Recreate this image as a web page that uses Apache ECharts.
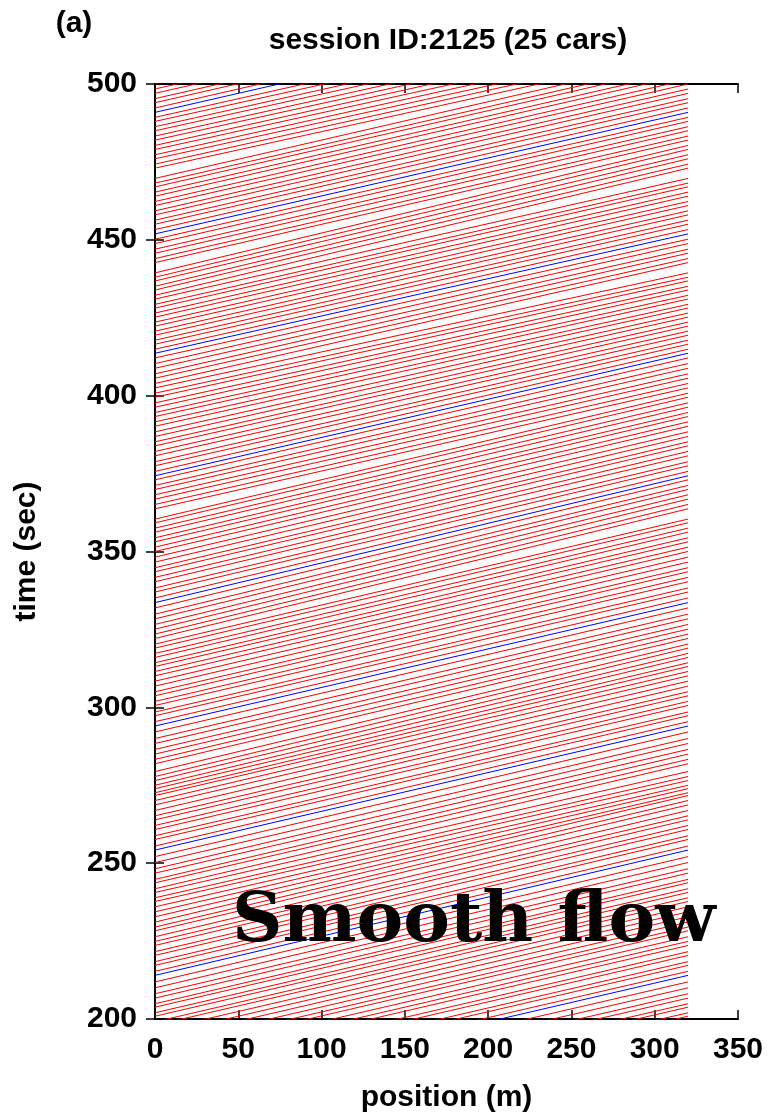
<!DOCTYPE html>
<html>
<head>
<meta charset="utf-8">
<script src="https://cdn.jsdelivr.net/npm/echarts@6/dist/echarts.min.js"></script>
<style>
  html, body { margin: 0; padding: 0; background: #fff; overflow: hidden; }
  #chart { width: 771px; height: 1118px; }
</style>
</head>
<body>
<div id="chart"></div>
<script>
// Ring road length (m) and the time each car passes position 0, lap by lap.
// Each row lists the 25 cars in order; the first car is the highlighted one.
const trackLength = 320;
const lapM1 = [134.6,136.0,137.8,139.1,140.9,142.2,144.1,145.4,147.0,148.9,150.2,151.9,153.4,155.1,156.5,158.3,159.5,161.2,162.5,164.3,165.5,167.3,168.7,170.6,172.4];
const lap0 = [174.3,175.7,177.6,178.8,180.7,181.9,183.9,185.2,186.8,188.6,189.9,191.5,193.1,194.7,196.2,198.0,199.1,200.9,202.0,203.8,204.9,206.7,208.1,210.0,211.9];
const lap1 = [214.0,215.3,217.2,218.4,220.4,221.6,223.6,224.9,226.4,228.3,229.5,231.1,232.8,234.4,236.0,237.7,238.9,240.6,241.8,243.7,244.8,246.8,248.2,250.2,252.1];
const lap2 = [254.2,255.5,257.6,258.8,260.8,262.1,263.9,265.2,266.9,268.7,270.1,271.7,272.6,273.9,275.0,276.5,277.8,279.4,281.9,283.3,285.0,286.5,288.4,290.0,292.1];
const lap3 = [294.0,295.4,297.3,298.5,300.6,301.9,303.7,305.0,306.8,308.4,310.1,311.5,313.1,314.3,316.0,317.3,319.0,320.3,322.1,323.5,325.1,326.6,328.4,329.9,331.9];
const lap4 = [333.6,335.1,337.0,338.3,340.3,341.7,343.5,344.8,346.6,348.2,350.0,351.4,353.1,354.4,356.2,357.5,359.2,360.4,363.7,365.1,366.8,368.2,369.9,371.2,373.0];
const lap5 = [374.3,375.7,377.5,378.8,380.7,382.1,383.9,385.2,386.9,388.4,390.2,391.6,393.3,394.6,396.3,397.7,399.5,400.8,402.5,403.9,405.6,407.0,408.8,410.3,412.1];
const lap6 = [413.6,414.9,416.5,417.8,419.4,420.7,422.3,423.6,425.2,426.5,428.1,429.3,431.0,432.2,433.9,435.1,436.8,438.0,439.4,442.7,444.0,445.7,447.0,448.8,450.2];
const lap7 = [451.9,453.3,455.0,456.3,458.0,459.3,461.0,462.3,464.0,465.3,467.0,468.2,469.7,473.0,474.3,476.0,477.3,479.0,480.3,482.0,483.3,485.0,486.3,488.0,489.3];
const lap8 = [490.9,492.3,494.0,495.3,497.0,498.4,500.0,501.4,503.1,504.4,506.1,507.4,509.1,510.5,512.2,513.5,515.2,516.6,518.3,519.6,521.3,522.7,524.4,525.8,527.6];
const lap9 = [530.0,531.4,533.1,534.4,536.1,537.5,539.2,540.5,542.2,543.6,545.3,546.6,548.3,549.7,551.4,552.7,554.4,555.8,557.5,558.8,560.5,561.9,563.6,565.0,566.7];
const laps = [lapM1, lap0, lap1, lap2, lap3, lap4, lap5, lap6, lap7, lap8, lap9];
const highlightCar = 0;

const chart = echarts.init(document.getElementById('chart'), null, { renderer: 'canvas' });

// One segment per car per lap: from position 0 at its pass time to the
// end of the road at its next pass time.
const redSeries = [];
const blueSeries = [];
for (let k = 0; k < laps.length - 1; k++) {
  for (let car = 0; car < laps[k].length; car++) {
    const isHi = car === highlightCar;
    const s = {
      type: 'line',
      data: [[0, laps[k][car]], [trackLength, laps[k + 1][car]]],
      showSymbol: false,
      symbol: 'none',
      silent: true,
      clip: true,
      z: isHi ? 4 : 3,
      lineStyle: { color: isHi ? '#0000ff' : '#ff0000', width: 1 }
    };
    (isHi ? blueSeries : redSeries).push(s);
  }
}

const font = '"Liberation Sans", Arial, Helvetica, sans-serif';
const axisLineStyle = { show: true, lineStyle: { color: '#000', width: 2 } };
const tickStyle = { show: true, inside: true, length: 9, lineStyle: { color: '#000', width: 1.5 } };
const labelStyle = { color: '#000', fontSize: 30, fontWeight: 'bold', fontFamily: font };

chart.setOption({
  animation: false,
  backgroundColor: '#fff',
  grid: { left: 155, right: 33, top: 84, bottom: 97, containLabel: false },
  xAxis: [
    {
      type: 'value', min: 0, max: 350, interval: 50, position: 'bottom',
      axisLine: axisLineStyle, axisTick: tickStyle, splitLine: { show: false },
      axisLabel: Object.assign({ margin: 16 }, labelStyle),
      name: 'position (m)', nameLocation: 'middle', nameGap: 64,
      nameTextStyle: labelStyle
    },
    {
      type: 'value', min: 0, max: 350, interval: 50, position: 'top',
      axisLine: axisLineStyle, axisTick: tickStyle, splitLine: { show: false },
      axisLabel: { show: false }
    }
  ],
  yAxis: [
    {
      type: 'value', min: 200, max: 500, interval: 50, position: 'left',
      axisLine: axisLineStyle, axisTick: tickStyle, splitLine: { show: false },
      axisLabel: Object.assign({ margin: 18 }, labelStyle),
      name: 'time (sec)', nameLocation: 'middle', nameGap: 113, nameRotate: 90,
      nameTextStyle: labelStyle
    },
    {
      type: 'value', min: 200, max: 500, interval: 50, position: 'right',
      axisLine: axisLineStyle, axisTick: tickStyle, splitLine: { show: false },
      axisLabel: { show: false }
    }
  ],
  graphic: [
    {
      type: 'text', x: 74, y: 24, z: 10,
      style: { text: '(a)', fill: '#000', font: 'bold 30px ' + font,
               textAlign: 'center', textVerticalAlign: 'middle' }
    },
    {
      type: 'text', x: 448, y: 41, z: 10,
      style: { text: 'session ID:2125 (25 cars)', fill: '#000', font: 'bold 30px ' + font,
               textAlign: 'center', textVerticalAlign: 'middle' }
    },
    {
      type: 'text', x: 232, y: 958, z: 10,
      style: { text: 'Smooth flow', fill: '#000', font: 'bold 70px "DejaVu Serif", "Liberation Serif", serif',
               textAlign: 'left', textVerticalAlign: 'bottom' }
    }
  ],
  series: redSeries.concat(blueSeries)
});
</script>
</body>
</html>
